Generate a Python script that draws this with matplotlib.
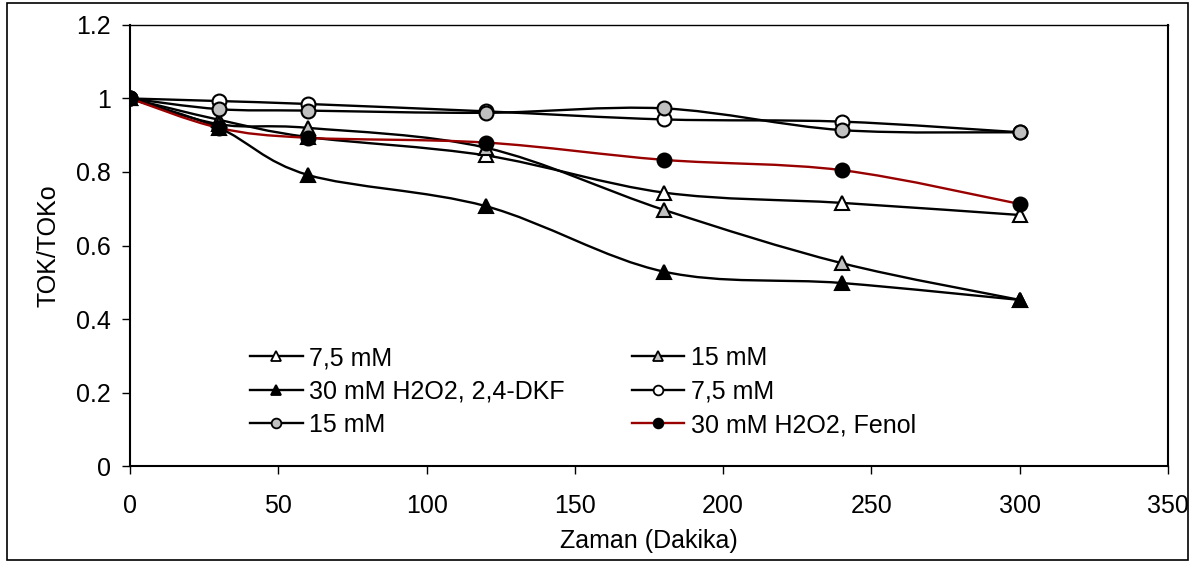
import numpy as np
import matplotlib
matplotlib.use('Agg')
import matplotlib.pyplot as plt
from matplotlib.path import Path
from matplotlib.patches import PathPatch, Rectangle
from matplotlib.lines import Line2D
from matplotlib.ticker import FuncFormatter

plt.rcParams['font.family'] = ['Liberation Sans', 'DejaVu Sans']

# zaman (dakika)
zaman = [0, 30, 60, 120, 180, 240, 300]

# 2,4-DKF serileri
dkf_75 = [1.0, 0.942, 0.895, 0.845, 0.744, 0.716, 0.683]
dkf_15 = [1.0, 0.930, 0.920, 0.866, 0.697, 0.552, 0.452]
dkf_30 = [1.0, 0.920, 0.792, 0.707, 0.529, 0.498, 0.452]
# Fenol serileri
fen_75 = [1.0, 0.993, 0.985, 0.965, 0.943, 0.937, 0.908]
fen_15 = [1.0, 0.971, 0.967, 0.961, 0.973, 0.914, 0.908]
fen_30 = [1.0, 0.920, 0.893, 0.880, 0.833, 0.805, 0.713]

etiketler = ['7,5 mM', '15 mM', '30 mM H2O2, 2,4-DKF',
             '7,5 mM', '15 mM', '30 mM H2O2, Fenol']
seriler = [dkf_75, dkf_15, dkf_30, fen_75, fen_15, fen_30]
markerler = ['^', '^', '^', 'o', 'o', 'o']
dolgular = ['white', '#c0c0c0', 'black', 'white', '#c0c0c0', 'black']
cizgi_renk = ['black'] * 5 + ['#990000']

FS = 18


def smooth_path(x, y):
    # Excel tarzi yumusatilmis cizgi (Bezier)
    x = np.asarray(x, float)
    y = np.asarray(y, float)
    n = len(x)
    verts = [(x[0], y[0])]
    codes = [Path.MOVETO]
    for i in range(n - 1):
        p0 = i - 1 if i > 0 else i
        p3 = i + 2 if i + 2 < n else i + 1
        c1 = (x[i] + (x[i + 1] - x[p0]) / 6, y[i] + (y[i + 1] - y[p0]) / 6)
        c2 = (x[i + 1] - (x[p3] - x[i]) / 6, y[i + 1] - (y[p3] - y[i]) / 6)
        verts += [c1, c2, (x[i + 1], y[i + 1])]
        codes += [Path.CURVE4] * 3
    return Path(verts, codes)


fig = plt.figure(figsize=(11.95, 5.67), dpi=100)
ax = fig.add_axes([0.1088, 0.178, 0.8686, 0.778])

handles = []
for ys, m, fc, lc, lab in zip(seriler, markerler, dolgular, cizgi_renk, etiketler):
    ax.add_patch(PathPatch(smooth_path(zaman, ys), facecolor='none',
                           edgecolor=lc, lw=1.7, zorder=2))
    ax.plot(zaman, ys, ls='none', marker=m, ms=10, mfc=fc, mec='black',
            mew=1.5, zorder=3)
    handles.append(Line2D([], [], color=lc, lw=1.7, marker=m, ms=7,
                          mfc=fc, mec='black', mew=1.3, label=lab))

ax.set_xlim(0, 350)
ax.set_ylim(0, 1.2)
ax.set_xticks(np.arange(0, 351, 50))
ax.set_yticks(np.arange(0, 1.21, 0.2))
ax.yaxis.set_major_formatter(FuncFormatter(lambda v, p: '%g' % round(v, 1)))
ax.tick_params(labelsize=FS, length=6, width=1, direction='out')
ax.tick_params(axis='x', pad=14)
ax.tick_params(axis='y', pad=8)
for s in ax.spines.values():
    s.set_linewidth(1.5)
ax.spines['top'].set_linewidth(1.0)

ax.set_xlabel('Zaman (Dakika)', fontsize=FS, labelpad=8)
ax.set_ylabel('TOK/TOKo', fontsize=FS, labelpad=11)

# legend satir sirasi: matplotlib sutun sirasiyla dolduruyor
sira = [0, 2, 4, 1, 3, 5]
ax.legend([handles[i] for i in sira], [etiketler[i] for i in sira],
          ncol=2, frameon=False, fontsize=FS, loc='upper left',
          bbox_to_anchor=(0.1156, 0.272), handlelength=2.1, handletextpad=0.25,
          columnspacing=2.7, labelspacing=0.38, borderaxespad=0, borderpad=0)

# dis cerceve
fig.patches.append(Rectangle((0.006, 0.012), 0.988, 0.982, transform=fig.transFigure,
                             fill=False, edgecolor='black', lw=1.2))

fig.savefig('out.png', dpi=100)
